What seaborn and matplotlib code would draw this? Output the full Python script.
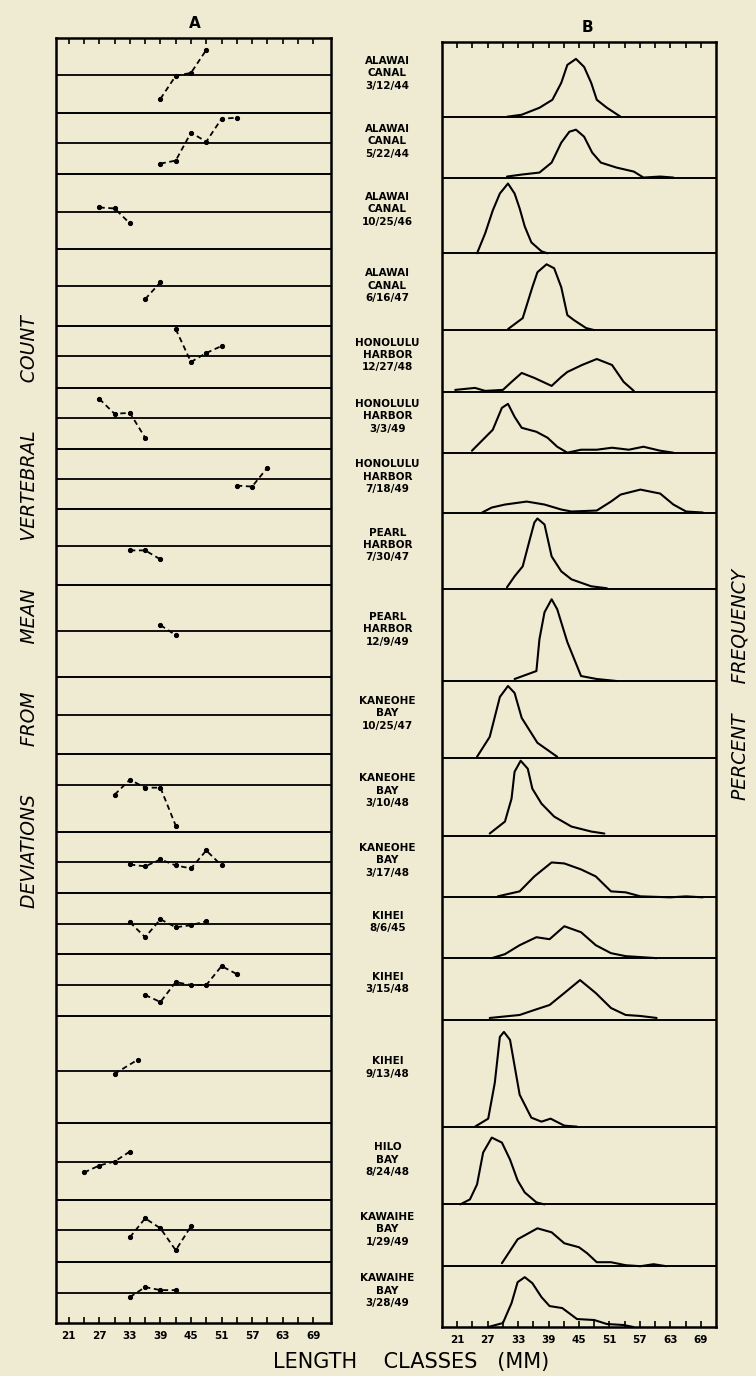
import numpy as np
import pandas as pd
import matplotlib.pyplot as plt
import seaborn as sns

# sample labels (top to bottom)
locations = ['ALAWAI\nCANAL', 'ALAWAI\nCANAL', 'ALAWAI\nCANAL', 'ALAWAI\nCANAL',
             'HONOLULU\nHARBOR', 'HONOLULU\nHARBOR', 'HONOLULU\nHARBOR',
             'PEARL\nHARBOR', 'PEARL\nHARBOR',
             'KANEOHE\nBAY', 'KANEOHE\nBAY', 'KANEOHE\nBAY',
             'KIHEI', 'KIHEI', 'KIHEI',
             'HILO\nBAY', 'KAWAIHE\nBAY', 'KAWAIHE\nBAY']
dates = ['3/12/44', '5/22/44', '10/25/46', '6/16/47',
         '12/27/48', '3/3/49', '7/18/49',
         '7/30/47', '12/9/49',
         '10/25/47', '3/10/48', '3/17/48',
         '8/6/45', '3/15/48', '9/13/48',
         '8/24/48', '1/29/49', '3/28/49']

# height of each sample strip and position of the zero line in panel A
strip_heights = [75, 61, 76, 77, 62, 61, 60, 77, 92, 77, 78, 62, 61, 62, 107, 78, 62, 61]
zero_offsets = [37, 30, 39, 37, 30, 30, 30, 38, 46, 38, 31, 31, 31, 31, 55, 39, 30, 31]

# panel A: deviations from mean vertebral count by length class
a_lengths = [[39, 42, 45, 48], [39, 42, 45, 48, 51, 54], [27, 30, 33], [36, 39],
             [42, 45, 48, 51], [27, 30, 33, 36], [54, 57, 60], [33, 36, 39], [39, 42],
             [], [30, 33, 36, 39, 42], [33, 36, 39, 42, 45, 48, 51],
             [33, 36, 39, 42, 45, 48], [36, 39, 42, 45, 48, 51, 54], [30, 34.5],
             [24, 27, 30, 33], [33, 36, 39, 42, 45], [33, 36, 39, 42]]
a_devs = [[-24, -1, 2, 25], [-21, -18, 10, 1, 24, 25], [5, 4, -11], [-13, 4],
          [27, -6, 3, 10], [19, 4, 5, -20], [-7, -8, 11], [-4, -4, -13], [6, -4],
          [], [-10, 5, -3, -3, -41], [-2, -4, 3, -3, -6, 12, -3],
          [2, -13, 5, -3, -1, 3], [-10, -17, 3, 0, 0, 19, 11], [-3, 11],
          [-11, -4, 0, 10], [-7, 12, 2, -20, 4], [-4, 6, 3, 3]]

# panel B: percent frequency curves
b_lengths = [
    [30.8, 33.7, 37.2, 39.75, 41.5, 42.7, 44.4, 46, 47.4, 48.5, 50.5, 53.2],
    [30.8, 33.7, 37.2, 39.6, 41.5, 43.1, 44.4, 46, 47.6, 49.3, 52.4, 55.8, 57.7, 61, 63.6],
    [24.9, 26.5, 28, 29.4, 31, 32.3, 33.3, 34.3, 35.6, 37.6, 38.8],
    [31, 33.9, 35.8, 36.8, 38.6, 40.1, 41.5, 42.7, 44, 46.4, 48],
    [20.6, 24.5, 26.5, 30, 31.7, 33.7, 36.2, 39.6, 41.5, 42.7, 45.6, 48.5, 51.5, 53.8, 55.8],
    [23.9, 28, 29.8, 31, 32.3, 33.7, 36.6, 38.8, 40.7, 42.7, 45.4, 48.5, 51.5, 54.8, 57.7, 61, 63.6],
    [25.9, 27.8, 30.4, 34.7, 38.2, 41.5, 43.5, 48.5, 51.3, 53.2, 57.1, 61, 63.6, 66.1, 69.4],
    [30.8, 32.3, 33.9, 35.3, 36.2, 36.8, 38.2, 39.6, 41.5, 43.5, 47.4, 50.5],
    [32.3, 36.6, 37.2, 38.2, 39.6, 40.7, 42.7, 45.4, 48.5, 52.4],
    [24.9, 27.4, 29.4, 31, 32.3, 33.7, 36.8, 40.7],
    [27.4, 30.4, 31.7, 32.3, 33.5, 34.9, 35.8, 37.6, 40.1, 43.5, 47.4, 50],
    [29, 33.3, 36.2, 39.6, 42.1, 45.4, 48.3, 51.3, 54.2, 57.1, 63, 66.1, 69.4],
    [27.8, 30.4, 33.3, 36.6, 39.2, 42.1, 45.4, 48.3, 51.3, 54.2, 57.3, 60.3],
    [27.4, 33.3, 36.2, 39.2, 42.1, 45.2, 48.3, 51.3, 54.2, 57.1, 60.3],
    [24.5, 27.1, 28.4, 29.4, 30.2, 31.4, 33.3, 35.6, 37.6, 39.4, 42.1, 44.6],
    [21.6, 23.5, 24.9, 26.1, 27.8, 29.8, 31.4, 32.9, 34.3, 36.6, 38.2],
    [29.8, 32.9, 36.8, 39.6, 42.1, 45, 46.6, 48.5, 51.3, 54.2, 57.1, 59.7, 62.2],
    [27.1, 30, 31.7, 32.9, 34.3, 35.8, 37.6, 39.2, 41.7, 44.6, 48, 50.5, 53.8, 55.7],
]
b_freqs = [
    [0, 2, 9, 17, 34, 52, 58, 50, 34, 17, 9, 0],
    [1, 3, 5, 15, 35, 46, 48, 41, 25, 15, 10, 6, 0, 1, 0],
    [0, 20, 43, 60, 70, 60, 45, 27, 11, 2, 0],
    [1, 12, 43, 58, 66, 62, 43, 15, 10, 2, 0],
    [2, 4, 1, 2, 10, 19, 14, 6, 15, 20, 27, 33, 27, 10, 1],
    [2, 23, 45, 49, 36, 25, 21, 15, 6, 0, 3, 3, 5, 3, 6, 2, 0],
    [0, 5, 8, 11, 8, 3, 1, 2, 11, 18, 23, 19, 8, 1, 0],
    [2, 13, 23, 50, 67, 71, 65, 33, 18, 10, 3, 1],
    [2, 10, 42, 69, 82, 72, 39, 5, 2, 0],
    [1, 21, 61, 72, 65, 40, 15, 1],
    [2, 14, 37, 64, 75, 67, 47, 32, 19, 9, 4, 2],
    [1, 6, 21, 35, 34, 28, 21, 6, 5, 1, 0, 1, 0],
    [0, 4, 13, 21, 19, 32, 26, 13, 5, 2, 1, 0],
    [2, 5, 10, 15, 27, 40, 27, 12, 5, 4, 2],
    [0, 8, 44, 90, 95, 87, 32, 9, 5, 8, 1, 0],
    [0, 5, 20, 52, 67, 62, 45, 24, 12, 2, 0],
    [3, 27, 38, 34, 23, 19, 13, 4, 4, 1, 0, 2, 0],
    [0, 4, 24, 45, 50, 44, 30, 21, 19, 8, 7, 3, 2, 0],
]

tick_values = list(range(21, 70, 3))

sns.set_style("white")
plt.rcParams['font.family'] = ['DejaVu Sans']
plt.rcParams['text.color'] = 'black'
plt.rcParams['xtick.color'] = 'black'
paper = '#efebd2'

fig = plt.figure(figsize=(7.56, 13.76), dpi=100, facecolor=paper)
ax_a = fig.add_axes([0.0741, 0.0385, 0.3638, 0.9339])
ax_b = fig.add_axes([0.5847, 0.0356, 0.3624, 0.9339])

total = sum(strip_heights)
tops = total - np.cumsum([0] + strip_heights[:-1])
bottoms = tops - np.array(strip_heights)
zeros = tops - np.array(zero_offsets)

# long-form tables
rows_a, rows_b = [], []
for i in range(len(strip_heights)):
    for x, d in zip(a_lengths[i], a_devs[i]):
        rows_a.append({'sample': i, 'length': x, 'y': zeros[i] + d})
    for x, f in zip(b_lengths[i], b_freqs[i]):
        rows_b.append({'sample': i, 'length': x, 'y': bottoms[i] + f})
df_a = pd.DataFrame(rows_a)
df_b = pd.DataFrame(rows_b)

sns.lineplot(data=df_a, x='length', y='y', units='sample', estimator=None, sort=False,
             color='black', lw=1.3, linestyle=(0, (3, 2)), marker='o', ms=3,
             mec='black', mfc='black', legend=False, ax=ax_a)
sns.lineplot(data=df_b, x='length', y='y', units='sample', estimator=None, sort=False,
             color='black', lw=1.5, solid_joinstyle='round', legend=False, ax=ax_b)

for y in bottoms[:-1]:
    ax_a.axhline(y, color='black', lw=1.4)
    ax_b.axhline(y, color='black', lw=1.4)
for y in zeros:
    ax_a.axhline(y, color='black', lw=1.3)

for ax, xlim in [(ax_a, (18.5, 72.5)), (ax_b, (18, 72))]:
    ax.set_facecolor(paper)
    ax.set_xlim(*xlim)
    ax.set_ylim(0, total)
    ax.set_yticks([])
    ax.set_xticks(tick_values)
    ax.set_xticklabels([str(t) if (t - 21) % 6 == 0 else '' for t in tick_values],
                       fontweight='bold', fontsize=7.5)
    ax.tick_params(axis='x', direction='in', top=True, bottom=True, length=4,
                   width=1.2, pad=6)
    ax.set_xlabel('')
    ax.set_ylabel('')
    for s in ax.spines.values():
        s.set_linewidth(1.8)
        s.set_color('black')

# sample names between the panels
for i in range(len(strip_heights)):
    ax_a.text(1.205, (tops[i] + bottoms[i]) / 2 + 2, locations[i] + '\n' + dates[i],
              transform=ax_a.get_yaxis_transform(), ha='center', va='center',
              fontsize=7.5, fontweight='bold', linespacing=1.3, clip_on=False)

fig.text(195 / 756, 1 - 23 / 1376, 'A', ha='center', va='center', fontsize=11, fontweight='bold')
fig.text(587 / 756, 1 - 28 / 1376, 'B', ha='center', va='center', fontsize=11, fontweight='bold')
fig.text(411 / 756, 1 - 1362 / 1376, 'LENGTH    CLASSES   (MM)', ha='center', va='center',
         fontsize=15)
fig.text(30 / 756, 1 - 612 / 1376,
         'DEVIATIONS        FROM        MEAN        VERTEBRAL        COUNT',
         rotation=90, ha='center', va='center', fontsize=13.5, style='italic')
fig.text(740 / 756, 1 - 684 / 1376, 'PERCENT     FREQUENCY', rotation=90,
         ha='center', va='center', fontsize=13.5, style='italic')

fig.savefig('out.png', dpi=100, facecolor=paper)
